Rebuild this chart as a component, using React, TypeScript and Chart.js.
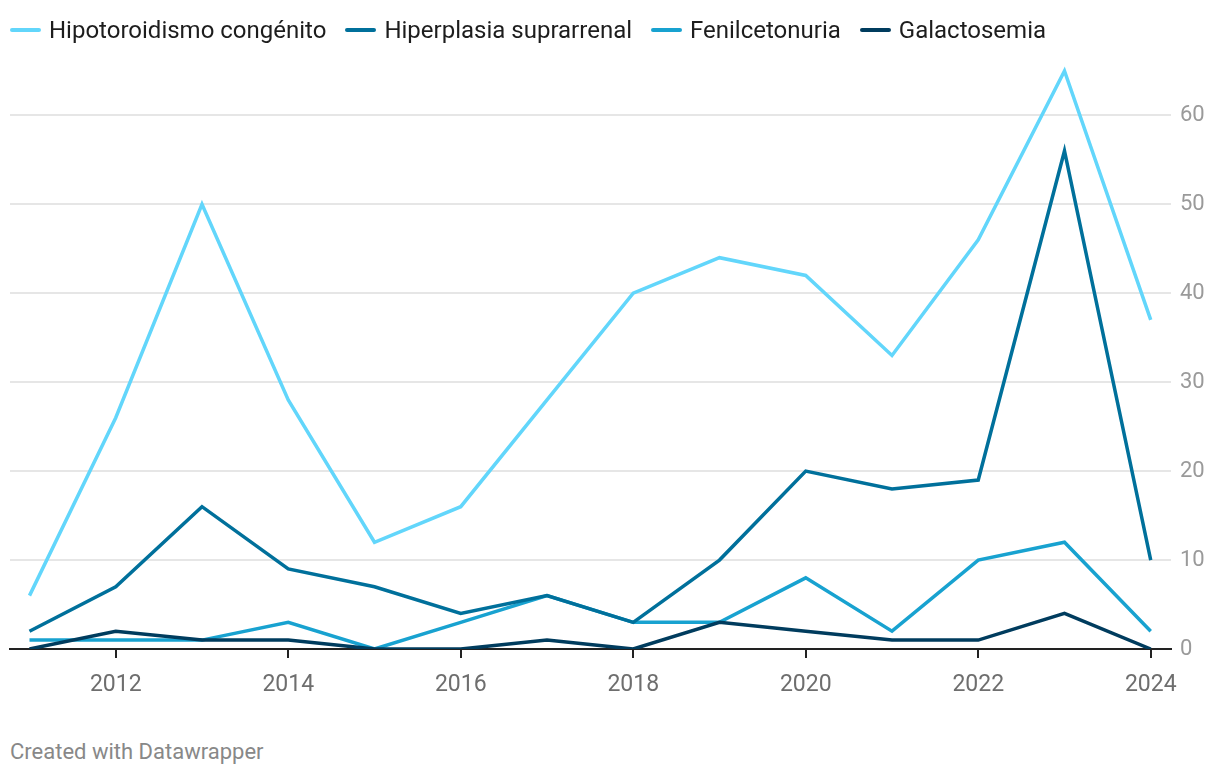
import React, { useEffect, useRef } from "react";
import { Chart, registerables } from "chart.js";

Chart.register(...registerables);

const years = [2011, 2012, 2013, 2014, 2015, 2016, 2017, 2018, 2019, 2020, 2021, 2022, 2023, 2024];
const hipotoroidismo = [6, 26, 50, 28, 12, 16, 28, 40, 44, 42, 33, 46, 65, 37];
const hiperplasia = [2, 7, 16, 9, 7, 4, 6, 3, 10, 20, 18, 19, 56, 10];
const fenilcetonuria = [1, 1, 1, 3, 0, 3, 6, 3, 3, 8, 2, 10, 12, 2];
const galactosemia = [0, 2, 1, 1, 0, 0, 1, 0, 3, 2, 1, 1, 4, 0];
const xTicks = [2012, 2014, 2016, 2018, 2020, 2022, 2024];
const yTicks = [0, 10, 20, 30, 40, 50, 60];

const seriesNames = ["Hipotoroidismo congénito", "Hiperplasia suprarrenal", "Fenilcetonuria", "Galactosemia"];
const seriesColors = ["#62d6fb", "#00709b", "#18a2d0", "#003c5e"];
const seriesValues = [hipotoroidismo, hiperplasia, fenilcetonuria, galactosemia];
const seriesOrder = [2, 1, 3, 0];

const FONT = "Roboto, 'Noto Sans', sans-serif";

export default function App() {
  const canvasRef = useRef<HTMLCanvasElement | null>(null);

  useEffect(() => {
    const canvas = canvasRef.current;
    if (!canvas) return;
    const chart = new Chart(canvas, {
      type: "line",
      data: {
        datasets: seriesNames.map((name, i) => ({
          label: name,
          data: years.map((x, j) => ({ x, y: seriesValues[i][j] })),
          borderColor: seriesColors[i],
          backgroundColor: seriesColors[i],
          borderWidth: 3.5,
          pointRadius: 0,
          pointHoverRadius: 0,
          tension: 0,
          fill: false,
          order: seriesOrder[i],
        })),
      },
      options: {
        responsive: false,
        animation: false,
        events: [],
        layout: { padding: { left: 2, right: 0, top: 54, bottom: 0 } },
        plugins: {
          legend: { display: false },
          tooltip: { enabled: false },
        },
        scales: {
          x: {
            type: "linear",
            min: 2010.774,
            max: 2024.235,
            afterBuildTicks: (s: any) => {
              s.ticks = xTicks.map((v) => ({ value: v }));
            },
            afterFit: (s: any) => {
              s.height = 64;
            },
            grid: {
              drawOnChartArea: false,
              drawTicks: true,
              tickLength: 9,
              color: "#222222",
              lineWidth: 2,
            },
            border: { display: true, color: "#222222", width: 2 },
            ticks: {
              autoSkip: false,
              maxRotation: 0,
              padding: 13,
              color: "#6e6e6e",
              font: { family: FONT, size: 23 },
              callback: (v: any) => String(v),
            },
          },
          y: {
            position: "right",
            min: 0,
            max: 66,
            afterBuildTicks: (s: any) => {
              s.ticks = yTicks.map((v) => ({ value: v }));
            },
            afterFit: (s: any) => {
              s.width = 41;
            },
            grid: {
              drawTicks: false,
              color: (ctx: any) => (ctx.tick && ctx.tick.value === 0 ? "rgba(0,0,0,0)" : "#e6e6e6"),
              lineWidth: 2,
            },
            border: { display: false },
            ticks: {
              padding: 9,
              color: "#9a9a9a",
              font: { family: FONT, size: 22 },
              callback: (v: any) => String(v),
            },
          },
        },
      },
    });
    return () => chart.destroy();
  }, []);

  return (
    <div style={{ position: "relative", width: 1204, height: 762, fontFamily: FONT }}>
      <canvas
        ref={canvasRef}
        width={1204}
        height={705}
        style={{ position: "absolute", left: 0, top: 0, width: 1204, height: 705 }}
      />
      <div
        style={{
          position: "absolute",
          left: 2,
          top: 8,
          display: "flex",
          alignItems: "center",
          gap: 19,
          fontSize: 24,
          lineHeight: "28px",
          color: "#1d1d1d",
          whiteSpace: "nowrap",
        }}
      >
        {seriesNames.map((name, i) => (
          <div key={name} style={{ display: "flex", alignItems: "center" }}>
            <span
              style={{
                display: "inline-block",
                width: 31,
                height: 4,
                borderRadius: 2,
                background: seriesColors[i],
                marginRight: 8,
              }}
            />
            <span>{name}</span>
          </div>
        ))}
      </div>
      <div
        style={{
          position: "absolute",
          left: 2,
          top: 731,
          fontSize: 22,
          lineHeight: "26px",
          color: "#888888",
          whiteSpace: "nowrap",
        }}
      >
        Created with Datawrapper
      </div>
    </div>
  );
}
